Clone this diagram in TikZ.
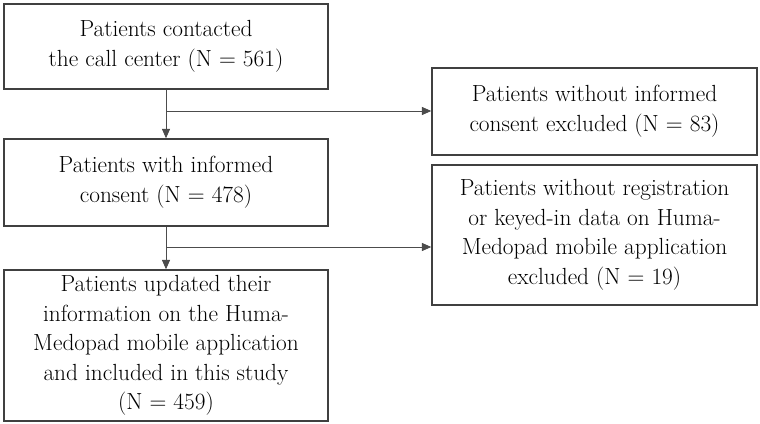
\documentclass[tikz,border=0pt]{standalone}
\usepackage{tikz}
\usetikzlibrary{arrows.meta}

\begin{document}
\begin{tikzpicture}[x=0.75pt, y=-0.75pt,
    box/.style={draw=black!75, line width=1.1pt, align=center, inner sep=0pt,
        font=\fontsize{17.5}{22.2}\selectfont},
    link/.style={draw=black!70, line width=0.7pt, -{Triangle[length=7pt, width=6pt]}}]
        \useasboundingbox (0, 0) rectangle (760, 424);
        \node (1) at (166, 46.5) [box, minimum width=243pt, minimum height=63.75pt] {Patients contacted\\the call center (N = 561)};
        \node (2) at (594.5, 111.5) [box, minimum width=243.75pt, minimum height=65.25pt] {Patients without informed\\consent excluded (N = 83)};
        \node (3) at (166, 182.5) [box, minimum width=243pt, minimum height=65.25pt] {Patients with informed\\consent (N = 478)};
        \node (4) at (594.5, 235) [box, minimum width=243.75pt, minimum height=105pt] {Patients without registration\\or keyed-in data on Huma-\\Medopad mobile application\\excluded (N = 19)};
        \node (5) at (166, 345.5) [box, minimum width=243pt, minimum height=113.25pt] {Patients updated their\\information on the Huma-\\Medopad mobile application\\and included in this study\\(N = 459)};
        \coordinate (b1) at (166, 111);
        \coordinate (b2) at (166, 247);
        \draw [link] (1) -- (3);
        \draw [link] (3) -- (5);
        \draw [link] (b1) -- (b1 -| 2.west);
        \draw [link] (b2) -- (b2 -| 4.west);
    \end{tikzpicture}
\end{document}
